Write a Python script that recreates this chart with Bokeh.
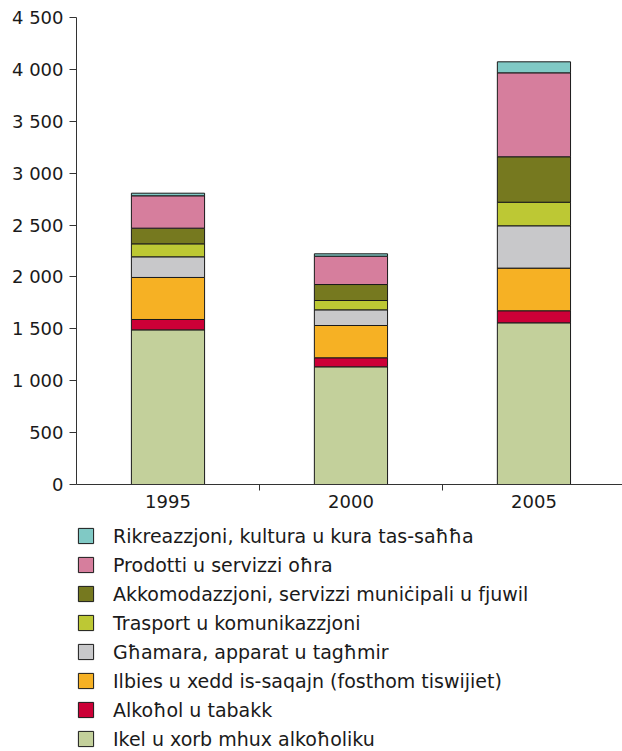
from bokeh.plotting import figure
from bokeh.layouts import column
from bokeh.models import Range1d, FixedTicker, Legend, LegendItem, ColumnDataSource
from bokeh.embed import file_html
from bokeh.resources import INLINE

years = ["1995", "2000", "2005"]
x_pos = [0, 1, 2]

# stacked bottom -> top
food = [1490, 1134, 1558]
alcohol = [100, 87, 116]
clothing = [405, 311, 411]
furnishing = [199, 151, 408]
transport = [125, 90, 227]
housing = [151, 154, 438]
other = [312, 273, 809]
recreation = [25, 23, 106]

series_names = [
    "Ikel u xorb mhux alkoħoliku",
    "Alkoħol u tabakk",
    "Ilbies u xedd is-saqajn (fosthom tiswijiet)",
    "Għamara, apparat u tagħmir",
    "Trasport u komunikazzjoni",
    "Akkomodazzjoni, servizzi muniċipali u fjuwil",
    "Prodotti u servizzi oħra",
    "Rikreazzjoni, kultura u kura tas-saħħa",
]
series_values = [food, alcohol, clothing, furnishing, transport, housing, other, recreation]
colors = ["#C3D09B", "#CC0037", "#F6B124", "#C8C8CA", "#BDC834", "#76791F", "#D67E9D", "#80C9C5"]

y_ticks = [0, 500, 1000, 1500, 2000, 2500, 3000, 3500, 4000, 4500]
y_tick_labels = ["0", "500", "1 000", "1 500", "2 000", "2 500", "3 000", "3 500", "4 000", "4 500"]

keys = ["s%d" % i for i in range(len(series_names))]
data = {"x": x_pos}
for k, v in zip(keys, series_values):
    data[k] = v
source = ColumnDataSource(data)

font = "DejaVu Sans"
outline = "#1a1a1a"

p = figure(frame_width=546, frame_height=467, output_backend="svg", toolbar_location=None,
           x_range=Range1d(-0.5, 2.484), y_range=Range1d(0, 4500),
           min_border_left=76, min_border_right=0, min_border_top=17, min_border_bottom=36)
p.outline_line_color = None
p.xgrid.visible = False
p.ygrid.visible = False

renderers = p.vbar_stack(keys, x="x", width=0.4, source=source, fill_color=colors,
                         line_color=outline, line_width=1)

# y axis
p.yaxis.ticker = FixedTicker(ticks=y_ticks)
p.yaxis.major_label_overrides = {t: l for t, l in zip(y_ticks, y_tick_labels)}
p.yaxis.major_tick_out = 7
p.yaxis.major_tick_in = 0
p.yaxis.minor_tick_line_color = None
p.yaxis.major_label_standoff = 6
p.yaxis.axis_line_color = "#333333"
p.yaxis.major_tick_line_color = "#333333"

# x axis
p.xaxis.ticker = FixedTicker(ticks=x_pos, minor_ticks=[0.5, 1.5])
p.xaxis.major_label_overrides = {t: l for t, l in zip(x_pos, years)}
p.xaxis.major_tick_line_color = None
p.xaxis.major_tick_out = 0
p.xaxis.minor_tick_out = 6
p.xaxis.minor_tick_in = 0
p.xaxis.minor_tick_line_color = "#333333"
p.xaxis.axis_line_color = "#333333"
p.xaxis.major_label_standoff = 4

for ax in (p.xaxis, p.yaxis):
    ax.major_label_text_font = font
    ax.major_label_text_font_size = "18px"
    ax.major_label_text_color = "#1a1a1a"

# legend panel below the chart (frame aligned with the chart's frame)
q = figure(frame_width=546, frame_height=226, output_backend="svg", toolbar_location=None,
           x_range=Range1d(0, 1), y_range=Range1d(0, 1),
           x_axis_type=None, y_axis_type=None,
           min_border_left=76, min_border_right=0, min_border_top=4, min_border_bottom=0)
q.outline_line_color = None
q.xgrid.visible = False
q.ygrid.visible = False

items = []
for name, col in zip(series_names, colors):
    r = q.vbar(x=[5], top=[5], bottom=[4], width=0.1, fill_color=col,
               line_color=outline, line_width=1)
    items.append(LegendItem(label=name, renderers=[r]))
items.reverse()

legend = Legend(items=items, location="top_left", orientation="vertical",
                glyph_width=19, glyph_height=19, label_height=23, spacing=6,
                label_standoff=18, padding=0, margin=0,
                border_line_color=None, background_fill_alpha=0,
                label_text_font=font, label_text_font_size="19px",
                label_text_color="#1a1a1a")
q.add_layout(legend)

layout = column(p, q, spacing=0)
open("out.html", "w").write(file_html(layout, INLINE))
